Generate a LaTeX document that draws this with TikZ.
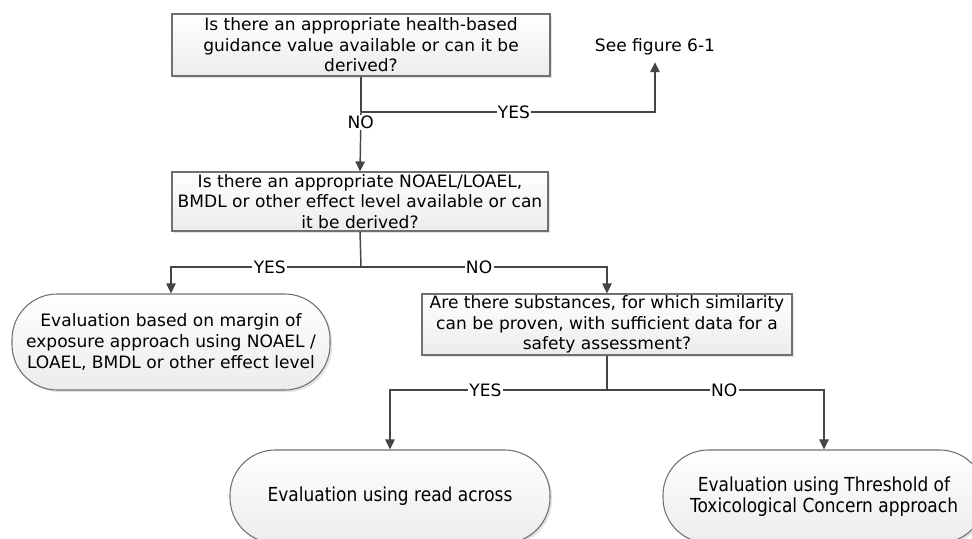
\documentclass[tikz,border=0pt]{standalone}
\usepackage{fontspec}
\setmainfont{DejaVu Sans}
\newfontfamily\condfont[FakeStretch=0.88]{DejaVu Sans}
\usetikzlibrary{arrows.meta,shadows}
\definecolor{linegray}{HTML}{454545}
\definecolor{boxgray}{HTML}{707070}
\newcommand\mainfs{\fontsize{12.8pt}{15.4pt}\selectfont}
\newcommand\condfs{\condfont\fontsize{14.5pt}{15.8pt}\selectfont}
\begin{document}
\begin{tikzpicture}[x=0.75pt,y=-0.75pt,
  conn/.style={draw=linegray,line width=1.1pt},
  arr/.style={conn,-{Triangle[length=7.5pt,width=7pt]}},
  boxbase/.style={draw=boxgray,line width=0.8pt,top color=white,bottom color=gray!15,
    drop shadow={shadow xshift=1.6pt,shadow yshift=-1.6pt,fill=black!22},
    align=center,inner sep=0pt},
  qbox/.style={boxbase,rectangle,font=\mainfs},
  endbox/.style={boxbase,rectangle,rounded corners=34pt},
  lab/.style={fill=white,inner sep=1pt,font=\mainfs,text=black}]
\useasboundingbox (0,0) rectangle (972,539);
\clip (0,0) rectangle (972,539);

\node[qbox,minimum width=283.5pt,minimum height=46.5pt] (q1) at (361,45)
  {Is there an appropriate health-based\\guidance value available or can it be\\derived?};
\node[font=\mainfs,inner xsep=1pt,inner ysep=5pt] (see) at (655,47) {See figure 6-1};
\node[qbox,minimum width=282pt,minimum height=44.25pt] (q2) at (360,201.5)
  {Is there an appropriate NOAEL/LOAEL,\\BMDL or other effect level available or can\\it be derived?};
\node[endbox,font=\mainfs,minimum width=238.5pt,minimum height=72pt] (moe) at (171,342)
  {Evaluation based on margin of\\exposure approach using NOAEL /\\LOAEL, BMDL or other effect level};
\node[qbox,minimum width=277.5pt,minimum height=45.75pt] (q3) at (607,324.5)
  {Are there substances, for which similarity\\can be proven, with sufficient data for a\\safety assessment?};
\node[endbox,font=\condfs,minimum width=240pt,minimum height=69.75pt] (ra) at (390,496.5)
  {Evaluation using read across};
\node[endbox,font=\condfs,minimum width=241.5pt,minimum height=69.75pt] (ttc) at (824,496.5)
  {Evaluation using Threshold of\\Toxicological Concern approach};

\coordinate (b1) at (361,112);
\draw[conn] (q1.south) -- (b1);
\draw[arr] (b1) -| node[lab,pos=0.26]{YES} (see.south);
\draw[arr] (b1) -- node[lab,pos=0.18]{NO} (q2.north);

\coordinate (b2) at (361,267);
\draw[conn] (q2.south) -- (b2);
\draw[arr] (b2) -| node[lab,pos=0.24]{YES} (moe.north);
\draw[arr] (b2) -| node[lab,pos=0.24]{NO} (q3.north);

\coordinate (b3) at (607,390);
\draw[conn] (q3.south) -- (b3);
\draw[arr] (b3) -| node[lab,pos=0.28]{YES} (ra.north);
\draw[arr] (b3) -| node[lab,pos=0.27]{NO} (ttc.north);
\end{tikzpicture}
\end{document}
